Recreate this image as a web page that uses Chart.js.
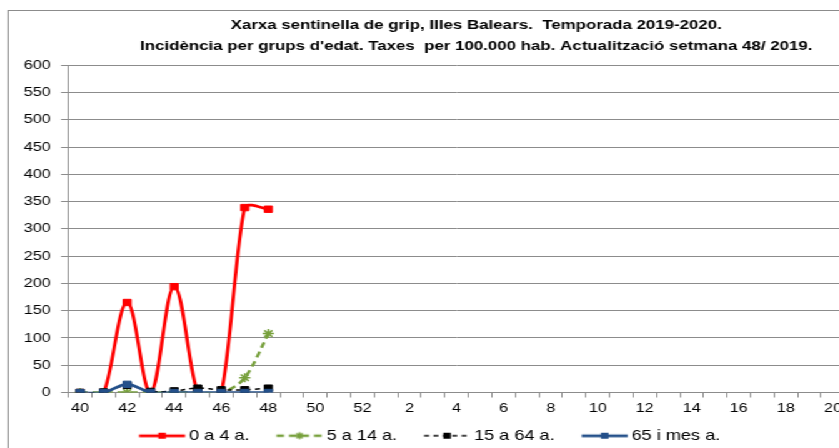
<!DOCTYPE html>
<html>
<head>
<meta charset="utf-8">
<script src="https://cdn.jsdelivr.net/npm/chart.js@4.4.1/dist/chart.umd.min.js"></script>
<style>
  html, body { margin: 0; padding: 0; background: #fff; overflow: hidden; width: 839px; height: 448px; }
  #wrap { position: absolute; left: 0; top: 0; width: 762px; height: 448px; transform: scaleX(1.25); transform-origin: 0 0; }
  #frame { position: absolute; left: 6.4px; top: 10px; width: 900px; height: 500px; border: 1px solid #8c8c8c; box-sizing: border-box; }
  #chart { position: absolute; left: 0; top: 0; }
</style>
</head>
<body>
<div id="wrap">
  <div id="frame"></div>
  <canvas id="chart" width="762" height="448"></canvas>
</div>
<script>
// setmanes de la temporada 2019-2020
const weeks = ["40", "41", "42", "43", "44", "45", "46", "47", "48", "49", "50", "51", "52",
  "1", "2", "3", "4", "5", "6", "7", "8", "9", "10", "11", "12", "13", "14", "15", "16", "17", "18", "19", "20"];

const seriesNames = ["0 a 4 a.", "5 a 14 a.", "15 a 64 a.", "65 i mes a."];

// taxes per 100.000 hab. (setmanes 40 a 48)
const age0to4 = [0, 0, 165, 0, 194, 0, 0, 339, 336];
const age5to14 = [0, 0, 0, 0, 0, 0, 0, 27, 108];
const age15to64 = [0, 1, 13, 2, 3, 8, 5, 5, 8];
const age65plus = [0, 0, 15, 0, 0, 0, 0, 0, 0];

const yTicks = [0, 50, 100, 150, 200, 250, 300, 350, 400, 450, 500, 550, 600];

const titleLines = [
  "Xarxa sentinella de grip, Illes Balears.  Temporada 2019-2020.",
  "Incidència per grups d'edat. Taxes  per 100.000 hab. Actualització setmana 48/ 2019."
];

const gridColor = "#8c8c8c";
const styles = [
  { color: "#ff0000", width: 2.75, dash: [], point: "rect", radius: 4.5 },
  { color: "#77a03c", width: 2.5, dash: [6, 4], point: "star", radius: 4.5 },
  { color: "#000000", width: 1.5, dash: [4, 3.5], point: "rect", radius: 4.5 },
  { color: "#24508a", width: 2.75, dash: [], point: "rect", radius: 4.5 },
];

// legend sample: line with marker in the middle
const boxW = 52.35;
function legendSample(st) {
  const c = document.createElement("canvas");
  c.width = 62;
  c.height = 12;
  const ctx = c.getContext("2d");
  const x0 = 24.4, x1 = 61.2, y = 6;
  ctx.strokeStyle = st.color;
  ctx.lineWidth = st.width;
  ctx.setLineDash(st.dash);
  ctx.beginPath();
  ctx.moveTo(x0, y);
  ctx.lineTo(x1, y);
  ctx.stroke();
  ctx.setLineDash([]);
  const mx = (x0 + x1) / 2;
  ctx.fillStyle = st.color;
  if (st.point === "star") {
    ctx.lineWidth = 1.5;
    ctx.beginPath();
    for (let a = 0; a < 4; a++) {
      const ang = a * Math.PI / 4;
      ctx.moveTo(mx - 3.5 * Math.cos(ang), y - 3.5 * Math.sin(ang));
      ctx.lineTo(mx + 3.5 * Math.cos(ang), y + 3.5 * Math.sin(ang));
    }
    ctx.stroke();
  } else {
    ctx.fillRect(mx - 3, y - 3, 6, 6);
  }
  return c;
}

const allSeries = [age0to4, age5to14, age15to64, age65plus];
const datasets = allSeries.map((vals, i) => ({
  label: seriesNames[i],
  data: vals,
  borderColor: styles[i].color,
  backgroundColor: styles[i].color,
  borderWidth: styles[i].width,
  borderDash: styles[i].dash,
  pointStyle: styles[i].point,
  pointRadius: styles[i].radius,
  pointBorderWidth: styles[i].point === "star" ? 1.5 : 1,
  pointBorderColor: styles[i].color,
  pointBackgroundColor: styles[i].color,
  tension: 0.4,
  fill: false,
  order: 3 - i,
}));

const samples = styles.map(legendSample);

// place title and legend like the original sheet
const placeBlocks = {
  id: "placeBlocks",
  afterLayout(chart) {
    if (chart.titleBlock) {
      chart.titleBlock.left = 0;
      chart.titleBlock.right = 762;
    }
    if (chart.legend) {
      chart.legend.left = 89.6;
    }
  },
};

// spreadsheet-like smoothing (catmull-rom, arms shortened next to short segments)
const smoothF = 0.19;
const excelSmooth = {
  id: "excelSmooth",
  beforeDatasetsDraw(chart) {
    chart.getSortedVisibleDatasetMetas().forEach((meta) => {
      meta.dataset.updateControlPoints(chart.chartArea, meta.indexAxis);
      const pts = meta.data;
      for (let i = 0; i < pts.length; i++) {
        const p = pts[i];
        const prev = pts[i - 1] || p;
        const next = pts[i + 1] || p;
        const tx = next.x - prev.x, ty = next.y - prev.y;
        const dPrev = Math.hypot(p.x - prev.x, p.y - prev.y);
        const dNext = Math.hypot(next.x - p.x, next.y - p.y);
        const sum = dPrev + dNext || 1;
        const wPrev = Math.min(1, 2 * dPrev / sum);
        const wNext = Math.min(1, 2 * dNext / sum);
        p.cp1x = p.x - smoothF * wPrev * tx;
        p.cp1y = p.y - smoothF * wPrev * ty;
        p.cp2x = p.x + smoothF * wNext * tx;
        p.cp2y = p.y + smoothF * wNext * ty;
      }
      meta.dataset._path = undefined;
    });
  },
};

new Chart(document.getElementById("chart"), {
  type: "line",
  data: { labels: weeks, datasets: datasets },
  plugins: [placeBlocks, excelSmooth],
  options: {
    responsive: false,
    animation: false,
    layout: { padding: { top: 14, right: 86.2, left: 0, bottom: -5 } },
    plugins: {
      tooltip: { enabled: false },
      title: {
        display: true,
        text: titleLines,
        color: "#000",
        font: { family: "'Liberation Sans', Arial, sans-serif", size: 13.5, weight: "bold", lineHeight: 1.6 },
        padding: { top: 0, bottom: 8 },
      },
      legend: {
        position: "bottom",
        align: "start",
        labels: {
          color: "#000",
          font: { family: "'Liberation Sans', Arial, sans-serif", size: 14.5 },
          padding: 2,
          usePointStyle: true,
          pointStyleWidth: boxW,
          sort: (a, b) => a.datasetIndex - b.datasetIndex,
          generateLabels: (chart) => {
            const items = Chart.defaults.plugins.legend.labels.generateLabels(chart);
            items.forEach((it) => {
              it.pointStyle = samples[it.datasetIndex];
            });
            return items;
          },
        },
      },
    },
    scales: {
      x: {
        offset: true,
        grid: { display: true, offset: true, drawOnChartArea: false, drawTicks: true, tickLength: 5, color: gridColor },
        border: { display: true, color: gridColor },
        ticks: {
          autoSkip: false,
          maxRotation: 0,
          padding: 3,
          color: "#000",
          font: { family: "'Liberation Sans', Arial, sans-serif", size: 13 },
          callback: (v, i) => (i % 2 === 0 ? weeks[i] : ""),
        },
        afterFit: (scale) => { scale.height = 34; },
      },
      y: {
        min: yTicks[0],
        max: yTicks[yTicks.length - 1],
        grid: { color: gridColor, tickLength: 5.8 },
        border: { display: true, color: gridColor },
        ticks: {
          stepSize: 50,
          padding: 8.2,
          color: "#000",
          font: { family: "'Liberation Sans', Arial, sans-serif", size: 13 },
        },
        afterFit: (scale) => { scale.width = 54.6; },
      },
    },
  },
});
</script>
</body>
</html>
